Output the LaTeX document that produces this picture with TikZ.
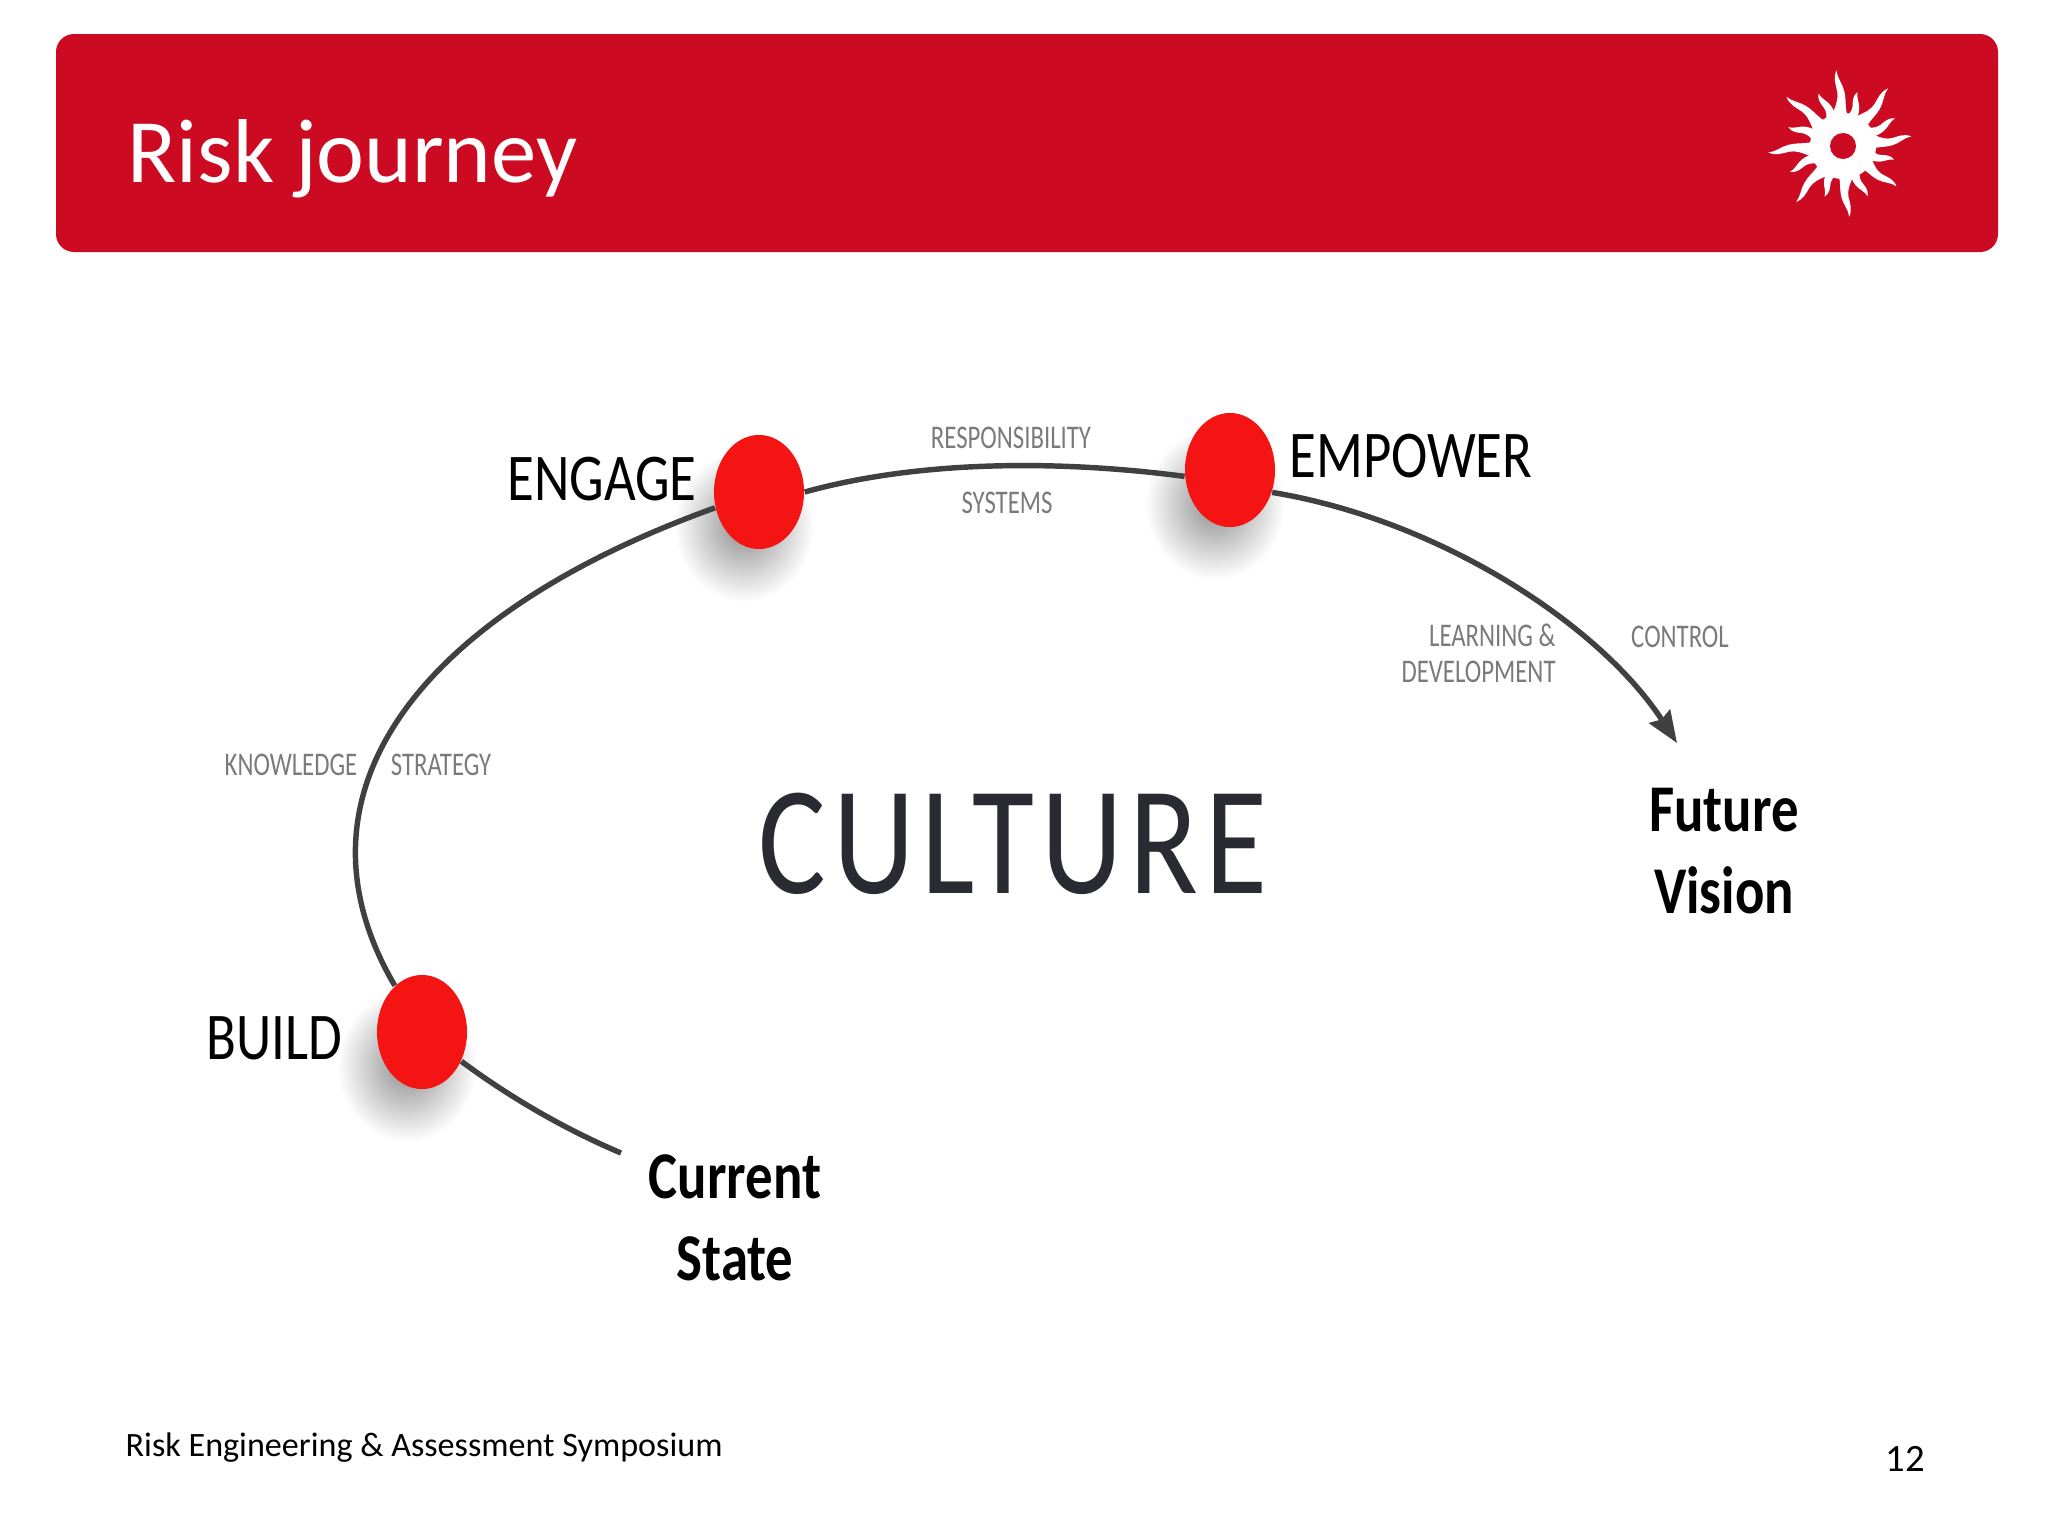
\documentclass[tikz,border=0pt]{standalone}
\usepackage{fontspec}
\setmainfont{Carlito}
\newfontfamily\narrowfont[FakeStretch=0.82]{Carlito}
\newfontfamily\smallfont[FakeStretch=0.75]{Carlito}
\newfontfamily\spacedfont[FakeStretch=0.82,LetterSpace=4.5]{Carlito}
\usetikzlibrary{arrows.meta,shapes.geometric}
\definecolor{headRed}{HTML}{CC0A22}
\definecolor{dotRed}{HTML}{F51414}
\definecolor{lineGray}{HTML}{404040}
\definecolor{smallGray}{HTML}{7A7A7A}
\definecolor{cultureInk}{HTML}{2A2A33}
\newcommand{\sizedfont}[1]{\fontsize{#1}{#1}\selectfont}

\begin{document}
\begin{tikzpicture}
[x=0.01cm,y=-0.01cm,
  stageDecorate/.style={shape=ellipse,fill=dotRed,minimum width=0.9cm,minimum height=1.14cm,inner sep=0pt},%
  lineDecorate/.style={-,line width=1.55pt,draw=lineGray},%
  stageLabel/.style={font=\narrowfont\sizedfont{19},text=black},%
  smallLabel/.style={font=\smallfont\fontsize{9.4}{10.2}\selectfont,text=smallGray,align=right},%
  endLabel/.style={font=\narrowfont\bfseries\fontsize{19}{23.3}\selectfont,text=black,align=center},%
  shadowDecorate/.style={inner color=black!45,outer color=white}]
\useasboundingbox (0,0) rectangle (2048,1536);
%% header bar
\fill[headRed,rounded corners=0.18cm] (56,34) rectangle (1998,252);
\node (title) at (127,159) [anchor=west,inner sep=0pt,text=white,font=\sizedfont{25.8}] {Risk journey};
%% sun logo
\foreach \a/\len in {95/76, 52/73, 8/69, -37/67, -85/71, -130/73, -175/75, 139/75,
  115/58, 75/56, 28/59, -15/53, -64/56, -110/54, -154/59, 161/58}
{
  \fill[white,shift={(1843,146)},rotate=\a]
    (20,-11) .. controls ({.45*\len},-10) and ({.55*\len},0) .. ({.72*\len},-1)
    .. controls ({.82*\len},-2) and ({.9*\len},-4) .. (\len,0)
    .. controls ({.9*\len},0) and ({.82*\len},5) .. ({.72*\len},6)
    .. controls ({.55*\len},8) and ({.45*\len},3) .. (20,11) -- cycle;
}
\fill[white] (1843,146) circle (0.33cm);
\fill[headRed] (1843,146) circle (0.13cm);
%% shadows
\foreach \x/\y in {407/1066, 744/526, 1215/504}
{
  \shade[shadowDecorate] (\x,\y) ellipse (0.7cm and 0.76cm);
}
%% nodes or vertices
\foreach \nodename/\x/\y in {
  build/422/1032, engage/759/492, empower/1230/470}
{
  \node (\nodename) at (\x,\y) [stageDecorate] {};
}
\coordinate (currentEnd) at (621,1153);
\coordinate (futureEnd) at (1677,743);
%% edges or lines
\draw[lineDecorate] (currentEnd) .. controls (555,1125) and (500,1090) .. (build);
\draw[lineDecorate] (build) .. controls (280,790) and (425,612) .. (engage);
\draw[lineDecorate] (engage.east) .. controls (920,460) and (1060,460) .. (empower.188);
\draw[lineDecorate,-{Stealth[length=9pt,width=7pt,inset=1pt]}] (empower.-28) .. controls (1440,520) and (1600,625) .. (futureEnd);
%% labels
\foreach \nodename/\x/\y/\txt in {
  buildText/274/1038/BUILD, engageText/602/479/ENGAGE, empowerText/1411/456/EMPOWER}
{
  \node (\nodename) at (\x,\y) [stageLabel] {\txt};
}
\foreach \nodename/\x/\y/\txt in {
  knowledge/291/765/KNOWLEDGE, strategy/441/765/STRATEGY, responsibility/1011/438/RESPONSIBILITY,
  systems/1007/503/SYSTEMS, control/1680/637/CONTROL}
{
  \node (\nodename) at (\x,\y) [smallLabel] {\txt};
}
\node (learning) at (1568,653) [smallLabel,anchor=east] {LEARNING \&\\DEVELOPMENT};
\node (culture) at (1013,844) [font=\spacedfont\sizedfont{44},text=cultureInk] {CULTURE};
\node (futureText) at (1724,851) [endLabel] {Future\\Vision};
\node (currentText) at (735,1218) [endLabel] {Current\\State};
%% footer
\node (footer) at (125,1448) [anchor=west,inner sep=0pt,font=\sizedfont{9.7}] {Risk Engineering \& Assessment Symposium};
\node (pageNumber) at (1905,1459) [inner sep=0pt,font=\sizedfont{11}] {12};
\end{tikzpicture}
\end{document}
